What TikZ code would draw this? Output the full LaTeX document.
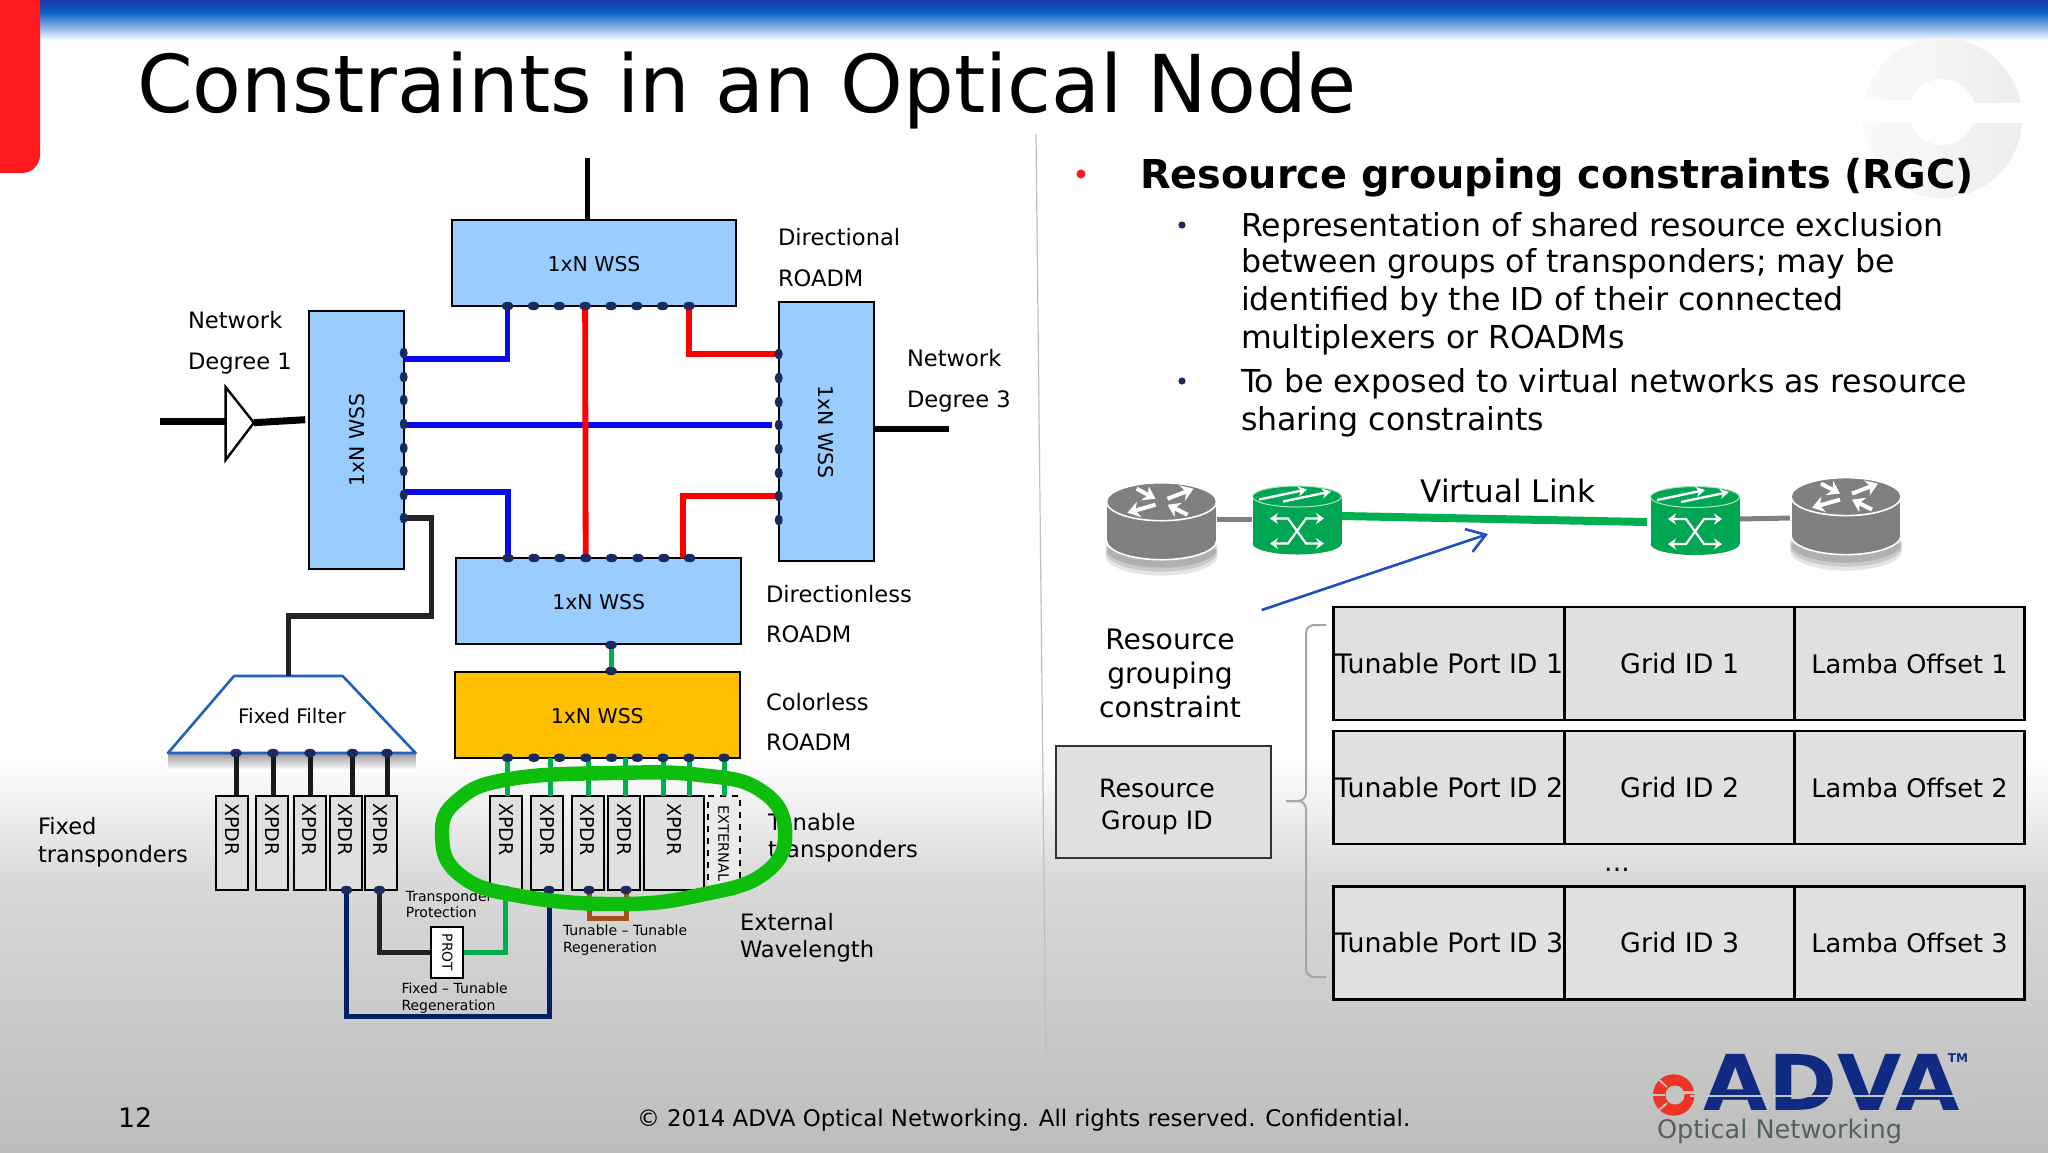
\documentclass[tikz,border=0pt]{standalone}
\usepackage{fontspec}
\setmainfont{DejaVu Sans}
\newfontfamily\advafont[FakeStretch=1.08]{DejaVu Sans}
\usetikzlibrary{arrows.meta,shapes.geometric,calc}
\definecolor{barnavy}{HTML}{1A35A8}
\definecolor{barblue}{HTML}{0A5FC8}
\definecolor{redbar}{HTML}{FF1A20}
\definecolor{wssblue}{HTML}{99CCFF}
\definecolor{wssorange}{HTML}{FFC000}
\definecolor{boxgrey}{HTML}{E0E0E0}
\definecolor{dotnavy}{HTML}{1A2A5E}
\definecolor{linkblue}{HTML}{0A0AE6}
\definecolor{linkred}{HTML}{FF0000}
\definecolor{linkgreen}{HTML}{00B050}
\definecolor{ringgreen}{HTML}{0DBE0D}
\definecolor{linknavy}{HTML}{002060}
\definecolor{linkbrown}{HTML}{A0521A}
\definecolor{darkline}{HTML}{222222}
\definecolor{filterblue}{HTML}{2060C0}
\definecolor{arrowblue}{HTML}{1F50C0}
\definecolor{routergrey}{HTML}{808080}
\definecolor{switchgreen}{HTML}{00A651}
\definecolor{advablue}{HTML}{0F2A80}
\definecolor{advared}{HTML}{EE3524}
\definecolor{advagrey}{HTML}{556060}
\definecolor{footbg}{HTML}{C4C4C4}
\tikzset{
  tx/.style={font=\fontsize{#1}{#1}\selectfont,inner sep=0pt,outer sep=0pt,text height=0.72*#1pt,text depth=0pt},
  wss/.style={draw=black,line width=1pt,fill=wssblue,tx=10.2,text height=8.5pt},
  xpdr/.style={draw=black,line width=1pt,fill=boxgrey,rotate=-90,minimum height=16pt,text width=40pt,inner xsep=3.5pt,inner ysep=0pt,align=left,font=\fontsize{9.5}{9.5}\selectfont},
  cell/.style={draw=black,line width=1.2pt,fill=boxgrey,minimum height=56.5pt,tx=13.4},
  linkb/.style={line width=2.7pt,linkblue},
  linkr/.style={line width=2.9pt,linkred},
  linkg/.style={line width=2.5pt,linkgreen},
  linkd/.style={line width=2.8pt,darkline},
  linkk/.style={line width=2.5pt,black},
  doth/.style={fill=dotnavy},
  arw/.style={white,line width=2pt,-{Stealth[length=6pt,width=8pt]}},
  darw/.style={white,line width=1.1pt,{Stealth[length=4pt,width=5.5pt]}-{Stealth[length=4pt,width=5.5pt]}},
}
\newcommand{\routerIcon}[2]{%
  \begin{scope}[shift={(#1,#2)}]
    \fill[black,opacity=.12] (0,46) ellipse (56 and 20);
    \fill[black,opacity=.12] (0,50) ellipse (56 and 20);
    \fill[black,opacity=.10] (0,54) ellipse (56 and 20);
    \filldraw[fill=routergrey,draw=white,line width=.8pt] (0,39) ellipse (55 and 19);
    \fill[routergrey] (-55,0) rectangle (55,39);
    \draw[white,line width=.8pt] (-55,0) -- (-55,39) (55,0) -- (55,39);
    \filldraw[fill=routergrey,draw=white,line width=.8pt] (0,0) ellipse (55 and 19);
    \draw[arw] (-25,-13) -- (-6,-3);
    \draw[arw] (6,-3) -- (32,-13);
    \draw[arw] (-6,3) -- (-34,11);
    \draw[arw] (26,13) -- (6,3);
  \end{scope}}
\newcommand{\switchIcon}[2]{%
  \begin{scope}[shift={(#1,#2)}]
    \fill[switchgreen] (0,47) ellipse (44.5 and 11);
    \fill[switchgreen] (-44.5,0) rectangle (44.5,47);
    \filldraw[fill=switchgreen,draw=white!70!switchgreen,line width=.5pt] (0,0) ellipse (44.5 and 10.5);
    \draw[arw,line width=1.2pt,-{Stealth[length=4.5pt,width=5pt]}] (-38,3) -- (10,-7);
    \draw[arw,line width=1.2pt,-{Stealth[length=4.5pt,width=5pt]}] (-14,5) -- (34,-5);
    \draw[darw] (-27,22) -- (-9,22) -- (9,47) -- (27,47);
    \draw[darw] (-27,47) -- (-9,47) -- (9,22) -- (27,22);
  \end{scope}}
\begin{document}
\begin{tikzpicture}[x=0.5pt,y=-0.5pt]
\useasboundingbox (0,0) rectangle (2048,1152);
% ---- background
\fill[white] (0,0) rectangle (2048,1152);
\shade[top color=white,bottom color=white!85!black] (0,758) rectangle (2048,880);
\shade[top color=white!85!black,bottom color=white!74!black] (0,880) rectangle (2048,1152);
\shade[top color=barnavy,bottom color=barblue] (0,0) rectangle (2048,12);
\shade[top color=barblue,bottom color=white] (0,12) rectangle (2048,41);
\fill[redbar] (0,0) -- (40,0) [rounded corners=9pt] -- (40,173) [sharp corners] -- (0,173) -- cycle;
% ---- watermark
\shade[left color=white!98!black,right color=white!93!black] (1942,118) circle (80);
\fill[white] (1942,112) circle (33);
\fill[white] (1940,103) rectangle (2030,123);
\fill[white] (1855,100) rectangle (1920,123);
% ---- separator
\coordinate (sepa) at (1036,134);
\coordinate (sepb) at (1046,1060);
\draw[black!25,line width=.6pt] (sepa) -- (sepb);
% ---- title
\node[tx=39.9,anchor=west] (title) at (137,84) {Constraints in an Optical Node};
% ---- left diagram: coordinates of ports
\foreach \x [count=\i] in {507.6,533.5,559.3,585.1,611,636.8,662.6,689} \coordinate (td\i) at (\x,306);
\foreach \x [count=\i] in {508.1,534,559.9,585.7,611.6,638,663.8,689.6} \coordinate (bd\i) at (\x,558);
\foreach \y [count=\i] in {353,377,400,424,448,471,495,518} \coordinate (ld\i) at (403.7,\y);
\foreach \y [count=\i] in {354,378,402,425,449,473,496,520} \coordinate (rd\i) at (778.7,\y);
\foreach \x [count=\i] in {507.5,533.8,559.5,585.8,611.5,637.3,663,689,724} \coordinate (od\i) at (\x,757.7);
\foreach \x [count=\i] in {236,273,310,352.5,387} \coordinate (fd\i) at (\x,753);
\coordinate (topend) at (587.7,158);
\coordinate (ampin) at (160,421);
\coordinate (ampa) at (225.6,387);
\coordinate (ampb) at (225.6,460);
\coordinate (ampt) at (253.9,422.7);
\coordinate (ampout) at (305.2,419.7);
\coordinate (rightout) at (948.8,428.7);
\coordinate (lblue1) at (403.7,359);
\coordinate (lblue2) at (403.7,492);
\coordinate (rblue) at (772.2,425);
\coordinate (lbluem) at (403.7,425);
\coordinate (bred) at (682.7,558);
\coordinate (dk1) at (431.5,616);
\coordinate (ft) at (288.3,676);
\coordinate (wa) at (611,645);
\coordinate (wb) at (611,671);
% ---- left diagram: labels
\foreach \n/\x/\y/\s in {la/778/237/Directional,lb/778/278/ROADM,lc/188/320/Network,ld/188/361/Degree 1,le/907/358/Network,lf/907/399/Degree 3,lg/766/594/Directionless,lh/766/634/ROADM,li/766/702/Colorless,lj/766/742/ROADM,lk/38/826/Fixed,ll/38/854/transponders,lm/768/822/Tunable,ln/768/849/transponders,lo/740/922/External,lp/740/949/Wavelength}
  \node[tx=11.3,anchor=west] (\n) at (\x,\y) {\s};
\foreach \n/\x/\y/\s in {sa/405.8/896/Transponder,sb/405.8/912.7/Protection,sc/563/930/Tunable – Tunable,sd/563/947/Regeneration,se/401.5/988/Fixed – Tunable,sf/401.5/1005.7/Regeneration}
  \node[tx=7,anchor=west] (\n) at (\x,\y) {\s};
% ---- boxes
\node[wss,minimum width=142pt,minimum height=43pt] (topw) at (594,263) {1xN WSS};
\node[wss,minimum width=47.25pt,minimum height=129.2pt] (leftw) at (356.5,440) {};
\node[tx=10.2,rotate=90] (leftt) at (357,440) {1xN WSS};
\node[wss,minimum width=47.5pt,minimum height=129.5pt] (rightw) at (826.3,431.5) {};
\node[tx=10.2,rotate=-90] (rightt) at (825.5,432) {1xN WSS};
\node[wss,minimum width=142.25pt,minimum height=43pt] (botw) at (598.7,601) {1xN WSS};
\node[wss,fill=wssorange,minimum width=142.25pt,minimum height=43pt] (colw) at (597.25,714.7) {1xN WSS};
% ---- filter
\fill[top color=black!40,bottom color=white,draw=none] (168,753) rectangle (415.6,770);
\filldraw[fill=white,draw=filterblue,line width=1.3pt,line join=round] (234,676) -- (342.7,676) -- (415.6,753) -- (168,753) -- cycle;
\node[tx=10] (filtt) at (292,716) {Fixed Filter};
% ---- XPDR
\foreach \x [count=\i] in {232,272,309.7,345.9,380.8}
  \node[xpdr] (fx\i) at (\x,843.4) {XPDR};
\foreach \x [count=\i] in {506,547,587.7,624.3}
  \node[xpdr] (tx\i) at (\x,843.4) {XPDR};
\node[xpdr,minimum height=30pt] (tx5) at (674,843.4) {XPDR};
\node[xpdr,dashed,fill=white!92!black,align=center,font=\fontsize{7.2}{7.2}\selectfont] (ext) at (723.6,843.4) {EXTERNAL};
\node[draw=black,line width=1pt,fill=white,rotate=-90,minimum width=25.8pt,minimum height=16pt,inner sep=0pt,font=\fontsize{6.9}{6.9}\selectfont] (prot) at (447.4,952.5) {PROT};
\foreach \x [count=\i] in {346.4,379.5} \coordinate (fb\i) at (\x,890);
\foreach \x [count=\i] in {505.6,549,589,626} \coordinate (tb\i) at (\x,890);
\coordinate (nv) at (346.4,1016.7);
\coordinate (br) at (589,918);
\coordinate (gk) at (505.6,953);
% ---- connectors
\draw[linkk] (topend) -- (topend |- topw.north);
\draw[linkk,line width=3.5pt] (ampin) -- (ampa |- ampin);
\draw[linkk,line width=3.5pt] (ampt) -- (ampout);
\filldraw[fill=white,draw=black,line width=1.2pt] (ampa) -- (ampt) -- (ampb) -- cycle;
\draw[linkk,line width=3.2pt] (rightw.east |- rightout) -- (rightout);
\draw[linkb] (lblue1) -| (td1);
\draw[linkb] (lbluem) -- (rblue);
\draw[linkb] (lblue2) -| (bd1);
\draw[linkr] (td4) -- (bd4);
\draw[linkr] (td8) |- (rd1);
\draw[linkr] (rd7) -| (bred);
\draw[linkd] (ld8) -| (dk1) -| (ft);
\draw[linkg] (wa) -- (wb);
\foreach \i in {1,...,5} \draw[linkd,line width=2.5pt,black!90] (fd\i) -- (fd\i |- fx\i.west);
\foreach \x [count=\i] in {507.5,550,588,625,663,689,724} {
  \coordinate (gt\i) at (\x,757.7);
  \coordinate (gb\i) at (\x,796);
  \draw[linkg] (gt\i) -- (gb\i);
}
\draw[linkg] (tb1) |- (prot.north);
\draw[linkd] (fb2) |- (prot.south);
\draw[line width=2.5pt,linknavy] (fb1) |- (nv -| tb2) -- (tb2);
\draw[line width=2.5pt,linkbrown] (tb3) |- (br -| tb4) -- (tb4);
% ---- ports
\foreach \i in {1,...,8} {
  \fill[doth] (td\i) ellipse (6 and 4.2);
  \fill[doth] (bd\i) ellipse (6 and 4.2);
  \fill[doth] (ld\i) ellipse (4 and 5.5);
  \fill[doth] (rd\i) ellipse (4 and 5.5);
}
\foreach \i in {1,...,9} \fill[doth] (od\i) ellipse (6 and 4.2);
\foreach \i in {1,...,5} \fill[doth] (fd\i) ellipse (6 and 4.2);
\foreach \i in {1,2} \fill[doth] (fb\i) ellipse (6 and 4.2);
\foreach \i in {1,...,4} \fill[doth] (tb\i) ellipse (6 and 4.2);
\fill[doth] (wa) ellipse (6 and 4.2);
\fill[doth] (wb) ellipse (6 and 4.2);
% ---- green ring
\draw[ringgreen,line width=7.2pt] plot[smooth cycle,tension=.75] coordinates {(614,773) (700,775) (760,790) (785,830) (765,873) (700,895) (620,904) (520,896) (460,875) (442,835) (458,800) (510,779)};
% ---- right: bullets
\fill[redbar] (1081,174) circle (4.5);
\node[tx=19.9,font=\fontsize{19.9}{19.9}\selectfont\bfseries,anchor=west] (head) at (1140,174) {Resource grouping constraints (RGC)};
\fill[dotnavy] (1182,225) circle (3.6);
\fill[dotnavy] (1182,381) circle (3.6);
\foreach \n/\y/\s in {ba/225/Representation of shared resource exclusion,bb/261/between groups of transponders; may be,bc/299/identified by the ID of their connected,bd/337/multiplexers or ROADMs,be/381/To be exposed to virtual networks as resource,bf/419/sharing constraints}
  \node[tx=15.8,anchor=west] (\n) at (1241,\y) {\s};
% ---- virtual link
\node[tx=15.5] (vl) at (1508,491) {Virtual Link};
\coordinate (ra) at (1217,519);
\coordinate (sa1) at (1252,519);
\coordinate (sb1) at (1342,516);
\coordinate (sb2) at (1647,522);
\coordinate (sc1) at (1739,519);
\coordinate (rb) at (1791,518);
\draw[routergrey,line width=2.5pt] (ra) -- (sa1);
\draw[routergrey,line width=2.5pt] (sc1) -- (rb);
\routerIcon{1161.5}{501.7}
\routerIcon{1846}{496.6}
\switchIcon{1297}{496.5}
\switchIcon{1695}{497}
\draw[linkgreen,line width=4pt] (sb1) -- (sb2);
\coordinate (arra) at (1261.7,610);
\coordinate (arrb) at (1488,534);
\draw[arrowblue,line width=1.3pt,-{Straight Barb[length=9pt,width=12pt]}] (arra) -- (arrb);
% ---- table
\foreach \r/\y/\n in {1/663.5/1,2/787.5/2,3/943/3} {
  \node[cell,minimum width=115.5pt] (ca\r) at (1449.15,\y) {Tunable Port ID \n};
  \node[cell,minimum width=115pt] (cb\r) at (1679.65,\y) {Grid ID \n\hspace{5pt}};
  \node[cell,minimum width=115pt,font=\fontsize{12.8}{12.8}\selectfont] (cc\r) at (1909.5,\y) {Lamba Offset \n};
}
\node[tx=13.4] (dots) at (1617,862) {...};
\foreach \n/\y/\s in {ra1/639/Resource,ra2/673/grouping,ra3/707/constraint}
  \node[tx=14.1] (\n) at (1170,\y) {\s};
\node[draw=black!80,line width=1pt,fill=boxgrey,minimum width=107.5pt,minimum height=56pt] (rgbox) at (1163.5,802) {};
\node[tx=12.6] (rg1) at (1157,788) {Resource};
\node[tx=12.6] (rg2) at (1157,820) {Group ID};
\coordinate (brt) at (1326,625);
\coordinate (brm) at (1306,801);
\coordinate (brb) at (1326,977);
\coordinate (brk) at (1286,801);
\draw[black!35,line width=1pt,rounded corners=4pt] (brt) -- (brm |- brt) -- (brm) -- (brk);
\draw[black!35,line width=1pt,rounded corners=4pt] (brk) -- (brm) -- (brm |- brb) -- (brb);
% ---- footer
\node[tx=13.4,anchor=west] (pg) at (118,1118) {12};
\node[tx=11.45,anchor=west] (copy) at (637,1118) {© 2014 ADVA Optical Networking. All rights reserved. Confidential.};
% ---- logo
\fill[advared] (1673.7,1095) circle (20.7);
\fill[footbg] (1675,1095) circle (9.5);
\draw[footbg,line width=.9pt] (1665,1095) -- (1650,1095);
\draw[footbg,line width=.9pt] (1667,1087) -- (1657,1078);
\draw[footbg,line width=.9pt] (1667,1103) -- (1657,1112);
\fill[footbg] (1682,1091) rectangle (1696,1094);
\node[text=advablue,inner sep=0pt,outer sep=0pt,font=\advafont\bfseries\fontsize{38.5}{38.5}\selectfont,text height=28pt,text depth=0pt] (adva) at (1832,1082) {ADVA};
\coordinate (sta) at (1690,1096);
\coordinate (stb) at (1975,1096);
\draw[footbg,line width=1.2pt] (sta) -- (stb);
\node[text=advablue,tx=6,font=\fontsize{6}{6}\selectfont\bfseries] (tm) at (1958,1058) {TM};
\node[text=advagrey,tx=12.8,anchor=west] (optn) at (1657,1129) {Optical Networking};
\end{tikzpicture}
\end{document}
